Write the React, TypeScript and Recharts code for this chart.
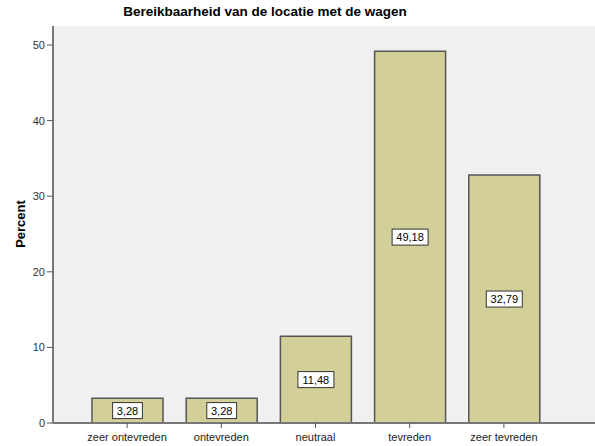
import React from "react";
import { BarChart, Bar, XAxis, YAxis, CartesianGrid, LabelList } from "recharts";

const categories = ["zeer ontevreden", "ontevreden", "neutraal", "tevreden", "zeer tevreden"];
const percents = [3.28, 3.28, 11.48, 49.18, 32.79];
const yTicks = [0, 10, 20, 30, 40, 50];
const title = "Bereikbaarheid van de locatie met de wagen";
const yLabel = "Percent";

const data = categories.map((c, i) => ({ name: c, value: percents[i] }));

const FONT = "'Liberation Sans', Arial, sans-serif";

const fmt = (v: number) => v.toFixed(2).replace(".", ",");

const BoxLabel = (props: any) => {
  const { x, y, width, height, value } = props;
  const cx = Number(x) + Number(width) / 2;
  const cy = Number(y) + Number(height) / 2;
  const txt = fmt(Number(value));
  const w = txt.length * 6.2 + 5;
  const h = 16;
  return (
    <g>
      <rect x={cx - w / 2} y={cy - h / 2} width={w} height={h} fill="#ffffff" stroke="#333333" strokeWidth={1} />
      <text x={cx} y={cy + 4} textAnchor="middle" fontSize={11} fontFamily={FONT} fill="#000">
        {txt}
      </text>
    </g>
  );
};

export default function App() {
  return (
    <div style={{ position: "absolute", left: 0, top: 0, width: 595, height: 446, overflow: "hidden", background: "#fff" }}>
      <div
        style={{
          position: "absolute",
          left: 0,
          width: 530,
          top: 4,
          textAlign: "center",
          fontFamily: FONT,
          fontWeight: "bold",
          fontSize: 13.5,
          lineHeight: "16px",
          color: "#000",
          zIndex: 2,
        }}
      >
        {title}
      </div>
      <BarChart
        width={600}
        height={446}
        data={data}
        margin={{ top: 26, right: 0, bottom: 0, left: 0 }}
      >
        <CartesianGrid horizontal={false} vertical={false} fill="#f0f0f0" />
        <XAxis
          xAxisId="top"
          orientation="top"
          dataKey="name"
          height={0}
          tick={false}
          tickLine={false}
          axisLine={{ stroke: "#888888", strokeWidth: 2 }}
          padding={{ left: 27, right: 49 }}
        />
        <XAxis
          dataKey="name"
          height={23}
          interval={0}
          padding={{ left: 27, right: 49 }}
          axisLine={{ stroke: "#777777", strokeWidth: 2 }}
          tickLine={{ stroke: "#555555" }}
          tickSize={5}
          tick={{ fontSize: 11, fontFamily: FONT, fill: "#222", dy: 3 }}
        />
        <YAxis
          width={53}
          domain={[0, 50]}
          ticks={yTicks}
          padding={{ top: 19 }}
          axisLine={{ stroke: "#777777", strokeWidth: 2 }}
          tickLine={{ stroke: "#555555" }}
          tickSize={6}
          tick={{ fontSize: 11, fontFamily: FONT, fill: "#333" }}
          label={{
            content: () => (
              <text
                x={20}
                y={224}
                transform="rotate(-90 20 224)"
                textAnchor="middle"
                dominantBaseline="central"
                fontSize={13}
                fontWeight="bold"
                fontFamily={FONT}
                fill="#000"
              >
                {yLabel}
              </text>
            ),
          }}
        />
        <Bar dataKey="value" fill="#d3cf98" stroke="#555555" strokeWidth={1.5} barSize={71} isAnimationActive={false}>
          <LabelList dataKey="value" content={BoxLabel} />
        </Bar>
      </BarChart>
    </div>
  );
}
